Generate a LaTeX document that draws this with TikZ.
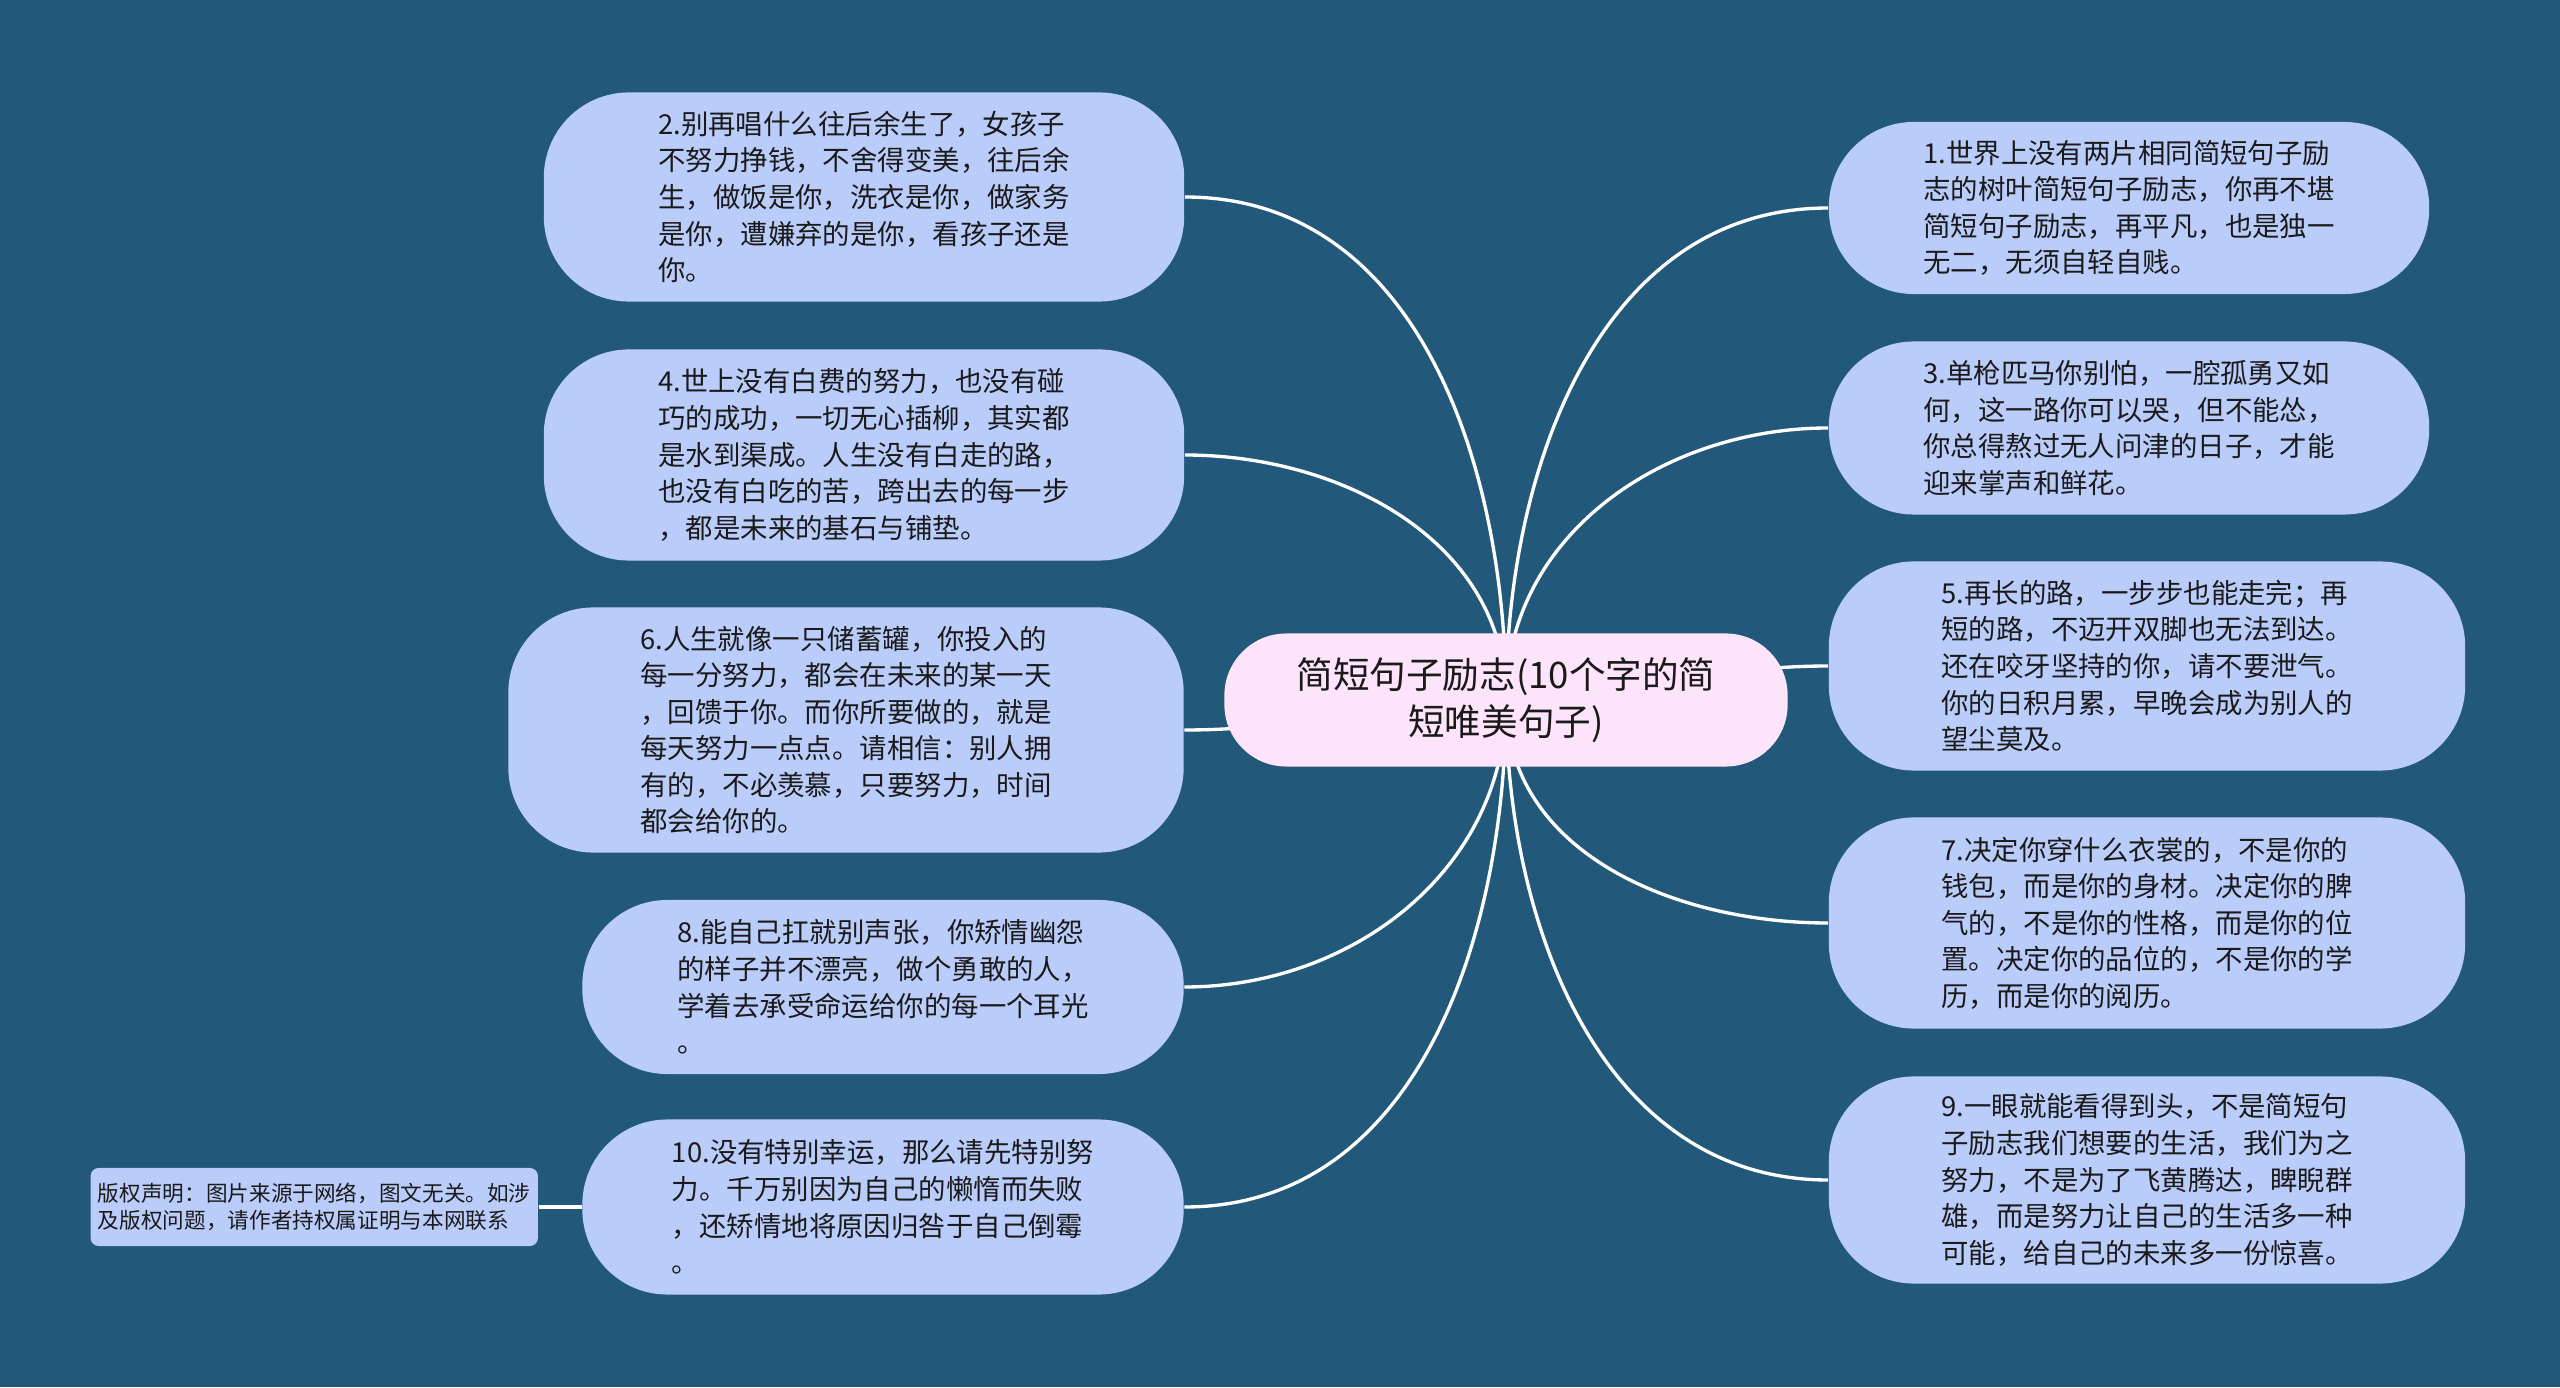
\documentclass[tikz,border=0pt]{standalone}
\usepackage{fontspec}
\setmainfont{Noto Sans CJK SC}
\usepackage{xcolor}
\usetikzlibrary{positioning,backgrounds}
\definecolor{bgblue}{HTML}{22587A}
\definecolor{leafblue}{HTML}{BACCFA}
\definecolor{rootpink}{HTML}{FDE4FA}
\definecolor{inkgray}{HTML}{1A1A1A}

\begin{document}
\begin{tikzpicture}[x=0.01cm,y=0.01cm,node distance=0.43cm,every node/.style={font=\fontsize{7.8pt}{10.4pt}\selectfont,text=inkgray}]
\tikzstyle{leaf}=[fill=leafblue,rounded corners=0.85cm,align=left,inner sep=0pt]
\tikzstyle{link}=[draw=white,line width=0.95pt]
\useasboundingbox (0,0) rectangle (2560,1387);
% centre
\node[fill=rootpink,rounded corners=0.62cm,align=center,inner sep=0pt,minimum width=5.63cm,minimum height=1.33cm,font=\fontsize{10.4pt}{13.4pt}\selectfont] (root) at (1506,687) {简短句子励志(10个字的简\\短唯美句子)};
% left column
\node[leaf,minimum width=6.4cm,minimum height=2.09cm] (n2) at (864,1190) {2.别再唱什么往后余生了，女孩子\\不努力挣钱，不舍得变美，往后余\\生，做饭是你，洗衣是你，做家务\\是你，遭嫌弃的是你，看孩子还是\\你。};
\node[leaf,minimum width=6.4cm,minimum height=2.11cm] (n4) at (864,932) {4.世上没有白费的努力，也没有碰\\巧的成功，一切无心插柳，其实都\\是水到渠成。人生没有白走的路，\\也没有白吃的苦，跨出去的每一步\\，都是未来的基石与铺垫。};
\node[leaf,minimum width=6.75cm,minimum height=2.45cm] (n6) at (846,657) {6.人生就像一只储蓄罐，你投入的\\每一分努力，都会在未来的某一天\\，回馈于你。而你所要做的，就是\\每天努力一点点。请相信：别人拥\\有的，不必羡慕，只要努力，时间\\都会给你的。};
\node[leaf,minimum width=6.01cm,minimum height=1.74cm] (n8) at (883,400) {8.能自己扛就别声张，你矫情幽怨\\的样子并不漂亮，做个勇敢的人，\\学着去承受命运给你的每一个耳光\\。};
\node[leaf,minimum width=6.01cm,minimum height=1.75cm] (n10) at (883,180) {10.没有特别幸运，那么请先特别努\\力。千万别因为自己的懒惰而失败\\，还矫情地将原因归咎于自己倒霉\\。};
\node[fill=leafblue,rounded corners=0.08cm,align=left,inner sep=0pt,minimum width=4.47cm,minimum height=0.78cm,font=\fontsize{6.15pt}{7.9pt}\selectfont,left=of n10] (notice) {版权声明：图片来源于网络，图文无关。如涉\\及版权问题，请作者持权属证明与本网联系};
% right column
\node[leaf,minimum width=6.0cm,minimum height=1.72cm] (n1) at (2129,1179) {1.世界上没有两片相同简短句子励\\志的树叶简短句子励志，你再不堪\\简短句子励志，再平凡，也是独一\\无二，无须自轻自贱。};
\node[leaf,minimum width=6.0cm,minimum height=1.73cm] (n3) at (2129,959) {3.单枪匹马你别怕，一腔孤勇又如\\何，这一路你可以哭，但不能怂，\\你总得熬过无人问津的日子，才能\\迎来掌声和鲜花。};
\node[leaf,minimum width=6.36cm,minimum height=2.09cm] (n5) at (2147,721) {5.再长的路，一步步也能走完；再\\短的路，不迈开双脚也无法到达。\\还在咬牙坚持的你，请不要泄气。\\你的日积月累，早晚会成为别人的\\望尘莫及。};
\node[leaf,minimum width=6.36cm,minimum height=2.11cm] (n7) at (2147,464) {7.决定你穿什么衣裳的，不是你的\\钱包，而是你的身材。决定你的脾\\气的，不是你的性格，而是你的位\\置。决定你的品位的，不是你的学\\历，而是你的阅历。};
\node[leaf,minimum width=6.36cm,minimum height=2.07cm] (n9) at (2147,207) {9.一眼就能看得到头，不是简短句\\子励志我们想要的生活，我们为之\\努力，不是为了飞黄腾达，睥睨群\\雄，而是努力让自己的生活多一种\\可能，给自己的未来多一份惊喜。};
\begin{scope}[on background layer]
\fill[bgblue] (0,0) rectangle (2560,1387);
\draw[link] (root.center) to[out=90,in=0] (n2.east);
\draw[link] (root.center) to[out=90,in=0] (n4.east);
\draw[link] (root.center) to[out=180,in=0] (n6.east);
\draw[link] (root.center) to[out=-90,in=0] (n8.east);
\draw[link] (root.center) to[out=-90,in=0] (n10.east);
\draw[link] (root.center) to[out=90,in=180] (n1.west);
\draw[link] (root.center) to[out=90,in=180] (n3.west);
\draw[link] (root.center) to[out=0,in=180] (n5.west);
\draw[link] (root.center) to[out=-90,in=180] (n7.west);
\draw[link] (root.center) to[out=-90,in=180] (n9.west);
\draw[link] (notice) -- (n10);
\end{scope}
\end{tikzpicture}
\end{document}
